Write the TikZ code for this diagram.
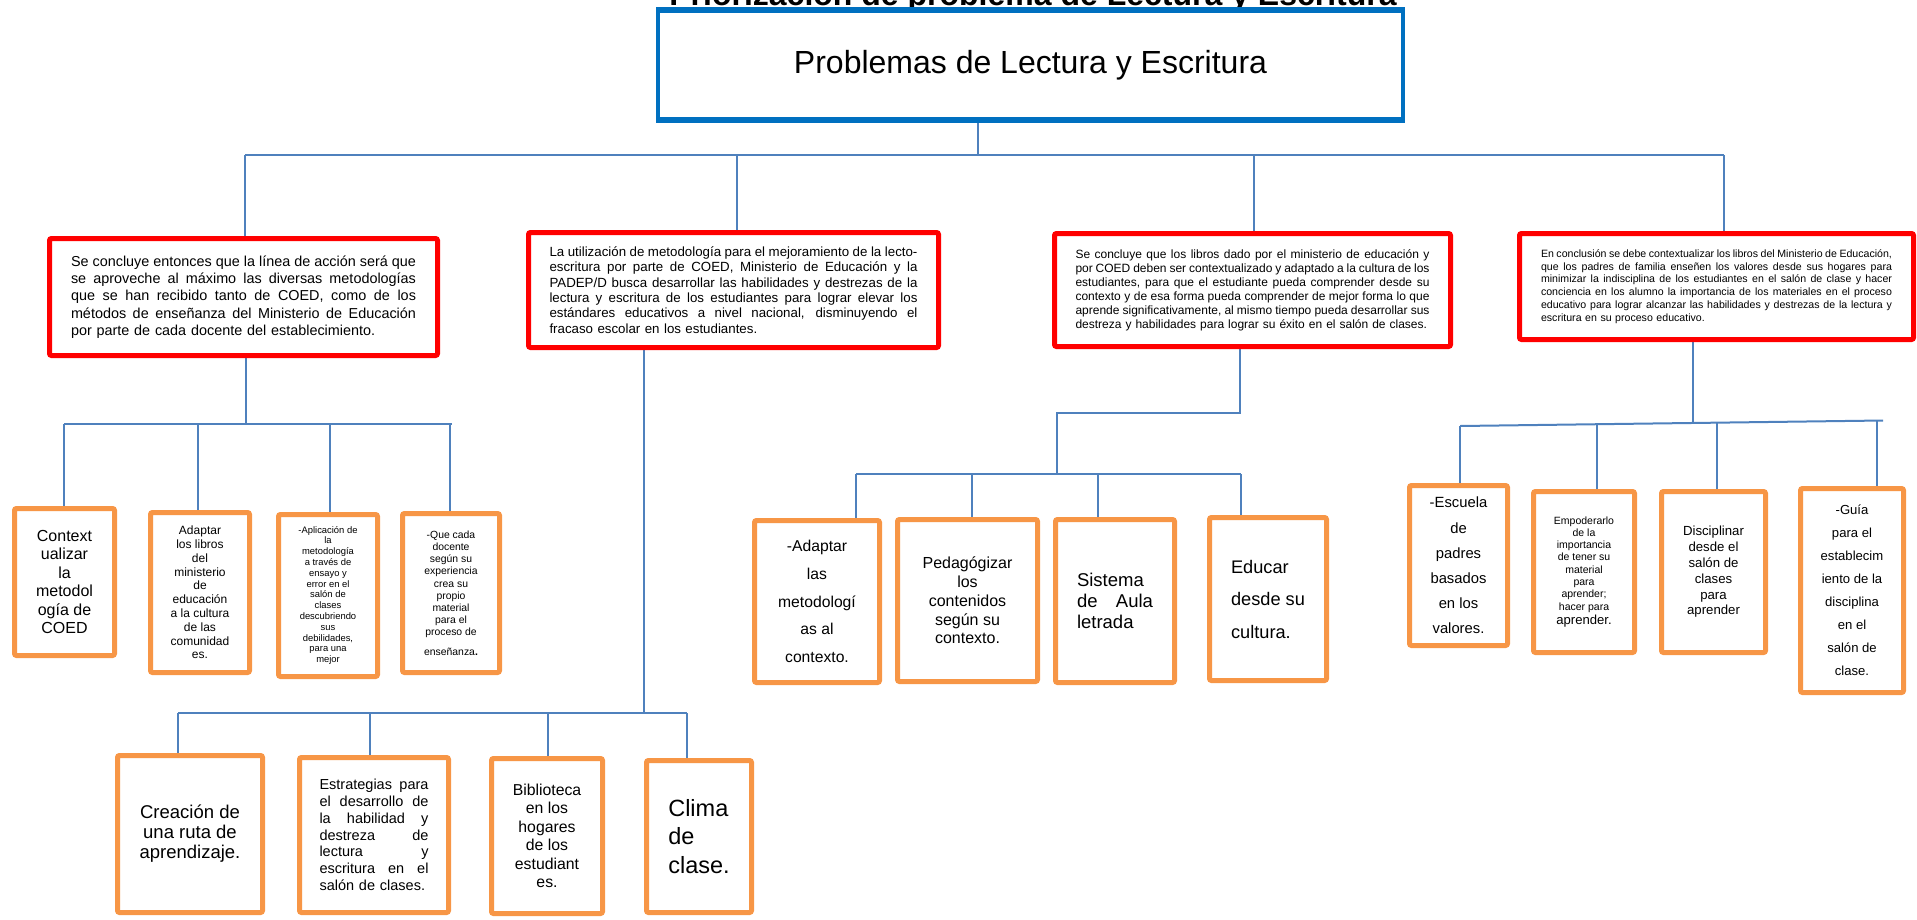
\documentclass[tikz,border=0pt]{standalone}
\usepackage{fontspec}
\setmainfont{Liberation Sans}
\usetikzlibrary{backgrounds}
\definecolor{lineblue}{HTML}{4F81BD}
\definecolor{topblue}{HTML}{0070C0}
\definecolor{orangeb}{HTML}{F79646}
\definecolor{redb}{HTML}{FF0000}
\newcommand{\JL}[2]{\leavevmode\hbox to #1{\spaceskip=0.278em plus 1fil minus 0.1em\relax\xspaceskip=\spaceskip #2}\\}
\newcommand{\fs}[2]{\fontsize{#1}{#2}\selectfont}
\begin{document}
\begin{tikzpicture}[x=1pt,y=-1pt,
 conn/.style={draw=lineblue, line width=2pt},
 redbox/.style={draw=redb, line width=5pt, fill=white, rounded corners=2pt, inner sep=0pt, align=left},
 orbox/.style={draw=orangeb, line width=5pt, fill=white, rounded corners=2pt, inner sep=0pt, align=center},
 orleft/.style={orbox, align=left},
]
\useasboundingbox (0,0) rectangle (1917,919);

% title (mostly cut off by the page top)
\node[anchor=base, inner sep=0pt, font=\bfseries\fs{32}{38}] (title) at (1033,5) {Priorización de problema de Lectura y Escritura};

% top box
\node[draw=topblue, line width=3.5pt, fill=white, minimum width=745pt, minimum height=107pt, inner sep=0pt, font=\fs{32}{38}] (top) at (1030.5,65) {Problemas de Lectura y Escritura};
\draw[topblue, line width=6pt] (top.north west) -- (top.north east);
\draw[topblue, line width=6pt] (top.south west) -- (top.south east);

% red boxes
\node[redbox, minimum width=388pt, minimum height=117pt, text width=345pt, font=\fs{14.4}{17.2}] (r1) at (243.5,297)
{\JL{345pt}{Se concluye entonces que la línea de acción será que}\JL{345pt}{se aproveche al máximo las diversas metodologías}\JL{345pt}{que se han recibido tanto de COED, como de los}\JL{345pt}{métodos de enseñanza del Ministerio de Educación}por parte de cada docente del establecimiento.};

\node[redbox, minimum width=410pt, minimum height=115pt, text width=368pt, font=\fs{13.3}{15.4}] (r2) at (733.5,290)
{\JL{368pt}{La utilización de metodología para el mejoramiento de la lecto-}\JL{368pt}{escritura por parte de COED, Ministerio de Educación y la}\JL{368pt}{PADEP/D busca desarrollar las habilidades y destrezas de la}\JL{368pt}{lectura y escritura de los estudiantes para lograr elevar los}\JL{368pt}{estándares educativos a nivel nacional, disminuyendo el}fracaso escolar en los estudiantes.};

\node[redbox, minimum width=396pt, minimum height=113pt, text width=354pt, font=\fs{12}{14}] (r3) at (1252.5,290)
{\JL{354pt}{Se concluye que los libros dado por el ministerio de educación y}\JL{354pt}{por COED deben ser contextualizado y adaptado a la cultura de los}\JL{354pt}{estudiantes, para que el estudiante pueda comprender desde su}\JL{354pt}{contexto y de esa forma pueda comprender de mejor forma lo que}\JL{354pt}{aprende significativamente, al mismo tiempo pueda desarrollar sus}destreza y habilidades para lograr su éxito en el salón de clases.};

\node[redbox, minimum width=394pt, minimum height=106pt, text width=351pt, font=\fs{10.6}{12.7}] (r4) at (1716.5,286.5)
{\JL{351pt}{En conclusión se debe contextualizar los libros del Ministerio de Educación,}\JL{351pt}{que los padres de familia enseñen los valores desde sus hogares para}\JL{351pt}{minimizar la indisciplina de los estudiantes en el salón de clase y hacer}\JL{351pt}{conciencia en los alumno la importancia de los materiales en el proceso}\JL{351pt}{educativo para lograr alcanzar las habilidades y destrezas de la lectura y}escritura en su proceso educativo.};

% orange boxes under r1
\node[orbox, minimum width=100pt, minimum height=147pt, font=\fs{16}{18.5}] (a1) at (64.5,582)
{Context\\ualizar\\la\\metodol\\ogía de\\COED};
\node[orbox, minimum width=99pt, minimum height=160pt, font=\fs{12}{13.8}] (a2) at (200,592.5)
{Adaptar\\los libros\\del\\ministerio\\de\\educación\\a la cultura\\de las\\comunidad\\es.};
\node[orbox, minimum width=99pt, minimum height=162pt, font=\fs{9.4}{10.8}] (a3) at (328,595.5)
{-Aplicación de\\la\\metodología\\a través de\\ensayo y\\error en el\\salón de\\clases\\descubriendo\\sus\\debilidades,\\para una\\mejor};
\node[orbox, minimum width=97pt, minimum height=159pt, font=\fs{10.4}{12.2}] (a4) at (451,593)
{-Que cada\\docente\\según su\\experiencia\\crea su\\propio\\material\\para el\\proceso de\\[7pt]enseñanza\textbf{.}};

% orange boxes under r2
\node[orbox, minimum width=145pt, minimum height=157pt, font=\fs{18.5}{20}] (d1) at (190,834)
{Creación de\\una ruta de\\aprendizaje.};
\node[orbox, align=left, minimum width=149pt, minimum height=155pt, text width=109pt, font=\fs{14.5}{16.8}] (d2) at (374,835)
{\JL{109pt}{Estrategias para}\JL{109pt}{el desarrollo de}\JL{109pt}{la habilidad y}\JL{109pt}{destreza de}\JL{109pt}{lectura y}\JL{109pt}{escritura en el}salón de clases.};
\node[orbox, minimum width=111pt, minimum height=155pt, font=\fs{15.8}{18.5}] (d3) at (547,836)
{Biblioteca\\en los\\hogares\\de los\\estudiant\\es.};
\node[orleft, minimum width=105pt, minimum height=152pt, font=\fs{23.5}{28.3}] (d4) at (699,836.5)
{Clima\\de\\clase.};

% orange boxes under r3
\node[orbox, minimum width=125pt, minimum height=162pt, font=\fs{15.7}{27.8}] (c1) at (817,601.5)
{-Adaptar\\las\\metodologí\\as al\\contexto.};
\node[orbox, minimum width=140pt, minimum height=162pt, font=\fs{16}{18.8}] (c2) at (967.5,600.5)
{Pedagógizar\\los\\contenidos\\según su\\contexto.};
\node[orleft, minimum width=119pt, minimum height=163pt, text width=76pt, font=\fs{18.5}{21}] (c3) at (1115,601)
{Sistema\\de\hfill Aula\\letrada};
\node[orleft, minimum width=117pt, minimum height=163pt, font=\fs{18.2}{32.5}] (c4) at (1268,599)
{Educar\\desde su\\cultura.};

% orange boxes under r4
\node[orbox, minimum width=98pt, minimum height=160pt, font=\fs{14.8}{25.2}] (e1) at (1458.5,565.5)
{-Escuela\\de\\padres\\basados\\en los\\valores.};
\node[orbox, minimum width=101pt, minimum height=161pt, font=\fs{10.5}{12.3}] (e2) at (1584,572)
{Empoderarlo\\de la\\importancia\\de tener su\\material\\para\\aprender;\\hacer para\\[2.5pt]{\fs{13.1}{15}aprender.}};
\node[orbox, minimum width=104pt, minimum height=161pt, font=\fs{13.2}{15.8}] (e3) at (1713.5,572)
{Disciplinar\\desde el\\salón de\\clases\\para\\aprender};
\node[orbox, minimum width=103pt, minimum height=204pt, font=\fs{13.1}{23}] (e4) at (1852,590.5)
{-Guía\\para el\\establecim\\iento de la\\disciplina\\en el\\salón de\\clase.};

\begin{pgfonlayer}{background}
% level 1
\coordinate (j0) at (978,155);
\coordinate (bl) at (245,155);
\coordinate (t2) at (737,155);
\coordinate (t3) at (1254,155);
\coordinate (br) at (1724,155);
\draw[conn] (j0 |- top.south) -- (j0);
\draw[conn] (bl) -- (br);
\draw[conn] (bl) -- (bl |- r1.north);
\draw[conn] (t2) -- (t2 |- r2.north);
\draw[conn] (t3) -- (t3 |- r3.north);
\draw[conn] (br) -- (br |- r4.north);
% under r1
\coordinate (j1) at (246,424);
\coordinate (u1) at (64,424);
\coordinate (u2) at (198,424);
\coordinate (u3) at (330,424);
\coordinate (u4) at (450,424);
\coordinate (u5) at (452,424);
\draw[conn] (j1 |- r1.south) -- (j1);
\draw[conn] (u1) -- (u5);
\draw[conn] (u1) -- (u1 |- a1.north);
\draw[conn] (u2) -- (u2 |- a2.north);
\draw[conn] (u3) -- (u3 |- a3.north);
\draw[conn] (u4) -- (u4 |- a4.north);
% under r2
\coordinate (j2) at (644,713);
\coordinate (v1) at (178,713);
\coordinate (v2) at (370,713);
\coordinate (v3) at (548,713);
\coordinate (v4) at (687,713);
\draw[conn] (j2 |- r2.south) -- (j2);
\draw[conn] (v1) -- (v4);
\draw[conn] (v1) -- (v1 |- d1.north);
\draw[conn] (v2) -- (v2 |- d2.north);
\draw[conn] (v3) -- (v3 |- d3.north);
\draw[conn] (v4) -- (v4 |- d4.north);
% under r3
\coordinate (k1) at (1240,413);
\coordinate (k2) at (1057,413);
\coordinate (k3) at (1057,474);
\coordinate (w1) at (856,474);
\coordinate (w2) at (972,474);
\coordinate (w3) at (1098,474);
\coordinate (w4) at (1241,474);
\draw[conn] (k1 |- r3.south) -- (k1) -- (k2) -- (k3);
\draw[conn] (w1) -- (w4);
\draw[conn] (w1) -- (w1 |- c1.north);
\draw[conn] (w2) -- (w2 |- c2.north);
\draw[conn] (w3) -- (w3 |- c3.north);
\draw[conn] (w4) -- (w4 |- c4.north);
% under r4
\coordinate (j4) at (1693,423);
\coordinate (x1) at (1460,426);
\coordinate (x2) at (1597,424.2);
\coordinate (x3) at (1717,422.7);
\coordinate (x4) at (1877,420.6);
\coordinate (x5) at (1883,420.5);
\draw[conn] (j4 |- r4.south) -- (j4);
\draw[conn] (x1) -- (x5);
\draw[conn] (x1) -- (x1 |- e1.north);
\draw[conn] (x2) -- (x2 |- e2.north);
\draw[conn] (x3) -- (x3 |- e3.north);
\draw[conn] (x4) -- (x4 |- e4.north);
\end{pgfonlayer}
\end{tikzpicture}
\end{document}
